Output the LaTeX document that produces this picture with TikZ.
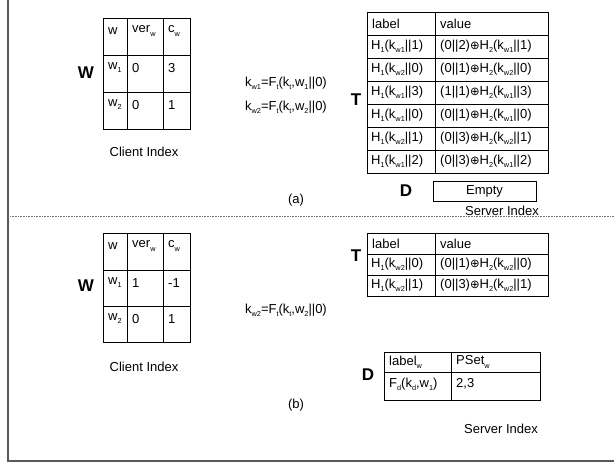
\documentclass[tikz,border=0pt]{standalone}
\usepackage{fontspec}
\setmainfont{Liberation Sans}
\newfontfamily\symfont{DejaVu Sans}
% small lowered index, as in the index tables
\newcommand{\ix}[1]{\raisebox{-0.45ex}{\fontsize{7.3}{8}\selectfont #1}}
\newcommand{\xo}{{\symfont\fontsize{11.5}{12}\selectfont ⊕}}
\begin{document}
\begin{tikzpicture}[x=1pt,y=-1pt,
  txt/.style={font=\fontsize{13}{14}\selectfont, inner sep=0pt},
  cell/.style={txt, anchor=west},
  big/.style={font=\fontsize{17}{18}\selectfont\bfseries, inner sep=0pt},
  tbl/.style={draw=black, line width=0.8pt},
  frame/.style={draw=black!65, line width=1.6pt},
  sep/.style={draw=black!55, line width=0.8pt, dash pattern=on 0.8pt off 0.8pt}]
\useasboundingbox (0,0) rectangle (614,465);

% outer frame and separator
\draw[frame] (8,0) -- (8,461) -- (614,461);
\draw[sep] (10,216) -- (614,216);

% ---------------- (a) ----------------
\node[big] (Wa) at (86,73) {W};
\draw[tbl] (103,18) rectangle (190,129);
\draw[tbl] (127,18) -- (127,129) (163,18) -- (163,129) (103,55) -- (190,55) (103,92) -- (190,92);
\node[cell] (wa11) at (108,31) {w};
\node[cell] (wa12) at (132,31) {ver\ix{w}};
\node[cell] (wa13) at (168,31) {c\ix{w}};
\node[cell] (wa21) at (108,68) {w\ix{1}};
\node[cell] (wa22) at (132,68) {0};
\node[cell] (wa23) at (168,68) {3};
\node[cell] (wa31) at (108,105) {w\ix{2}};
\node[cell] (wa32) at (132,105) {0};
\node[cell] (wa33) at (168,105) {1};
\node[txt] (cia) at (144,152) {Client Index};

\node[cell] (ka1) at (245,83) {k\ix{w1}=F\ix{t}(k\ix{t},w\ix{1}||0)};
\node[cell] (ka2) at (245,107) {k\ix{w2}=F\ix{t}(k\ix{t},w\ix{2}||0)};

\node[big] (Ta) at (356,100) {T};
\draw[tbl] (367,12) rectangle (548,173);
\draw[tbl] (435,12) -- (435,173);
\foreach \y in {35,58,81,104,127,150} \draw[tbl] (367,\y) -- (548,\y);
\node[cell] (ta0l) at (372,23.5) {label};
\node[cell] (ta0v) at (440,23.5) {value};
\node[cell] (ta1l) at (371,46.5) {H\ix{1}(k\ix{w1}||1)};
\node[cell] (ta1v) at (440,46.5) {(0||2)\xo H\ix{2}(k\ix{w1}||1)};
\node[cell] (ta2l) at (371,69.5) {H\ix{1}(k\ix{w2}||0)};
\node[cell] (ta2v) at (440,69.5) {(0||1)\xo H\ix{2}(k\ix{w2}||0)};
\node[cell] (ta3l) at (371,92.5) {H\ix{1}(k\ix{w1}||3)};
\node[cell] (ta3v) at (440,92.5) {(1||1)\xo H\ix{2}(k\ix{w1}||3)};
\node[cell] (ta4l) at (371,115.5) {H\ix{1}(k\ix{w1}||0)};
\node[cell] (ta4v) at (440,115.5) {(0||1)\xo H\ix{2}(k\ix{w1}||0)};
\node[cell] (ta5l) at (371,138.5) {H\ix{1}(k\ix{w2}||1)};
\node[cell] (ta5v) at (440,138.5) {(0||3)\xo H\ix{2}(k\ix{w2}||1)};
\node[cell] (ta6l) at (371,161.5) {H\ix{1}(k\ix{w1}||2)};
\node[cell] (ta6v) at (440,161.5) {(0||3)\xo H\ix{2}(k\ix{w1}||2)};

\node[big] (Da) at (406,191) {D};
\node[txt, draw=black, line width=0.8pt, minimum width=103pt, minimum height=20pt] (empty) at (484.5,191) {Empty};
\node[txt] (capa) at (296,200) {(a)};
\node[txt] (sia) at (502,211) {Server Index};

% ---------------- (b) ----------------
\node[big] (Wb) at (86,286) {W};
\draw[tbl] (103,233) rectangle (190,342);
\draw[tbl] (127,233) -- (127,342) (163,233) -- (163,342) (103,270) -- (190,270) (103,306) -- (190,306);
\node[cell] (wb11) at (108,246) {w};
\node[cell] (wb12) at (132,246) {ver\ix{w}};
\node[cell] (wb13) at (168,246) {c\ix{w}};
\node[cell] (wb21) at (108,283) {w\ix{1}};
\node[cell] (wb22) at (132,283) {1};
\node[cell] (wb23) at (168,283) {-1};
\node[cell] (wb31) at (108,319) {w\ix{2}};
\node[cell] (wb32) at (132,319) {0};
\node[cell] (wb33) at (168,319) {1};
\node[txt] (cib) at (144,367) {Client Index};

\node[cell] (kb) at (245,310) {k\ix{w2}=F\ix{t}(k\ix{t},w\ix{2}||0)};

\node[big] (Tb) at (356,256) {T};
\draw[tbl] (367,233) rectangle (548,296);
\draw[tbl] (435,233) -- (435,296) (367,254) -- (548,254) (367,275) -- (548,275);
\node[cell] (tb0l) at (372,243.5) {label};
\node[cell] (tb0v) at (440,243.5) {value};
\node[cell] (tb1l) at (371,264.5) {H\ix{1}(k\ix{w2}||0)};
\node[cell] (tb1v) at (440,264.5) {(0||1)\xo H\ix{2}(k\ix{w2}||0)};
\node[cell] (tb2l) at (371,285.5) {H\ix{1}(k\ix{w2}||1)};
\node[cell] (tb2v) at (440,285.5) {(0||3)\xo H\ix{2}(k\ix{w2}||1)};

\node[big] (Db) at (368,375) {D};
\draw[tbl] (384,352) rectangle (540,400);
\draw[tbl] (451,352) -- (451,400) (384,372) -- (540,372);
\node[cell] (db0l) at (389,362) {label\ix{w}};
\node[cell] (db0v) at (456,362) {PSet\ix{w}};
\node[cell] (db1l) at (389,384) {F\ix{d}(k\ix{d},w\ix{1})};
\node[cell] (db1v) at (456,384) {2,3};

\node[txt] (capb) at (296,405) {(b)};
\node[txt] (sib) at (501,429) {Server Index};
\end{tikzpicture}
\end{document}
